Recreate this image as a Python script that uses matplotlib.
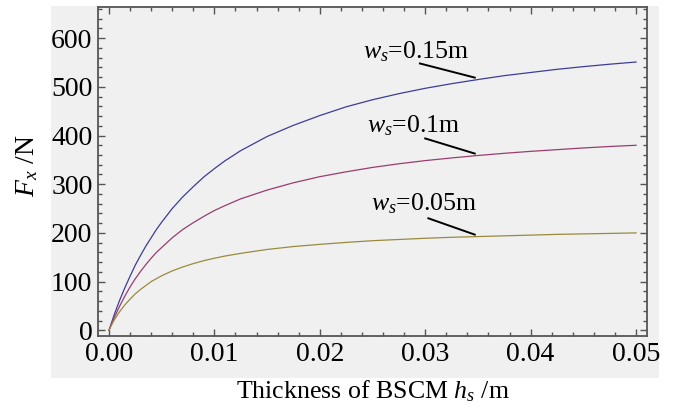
import numpy as np
import matplotlib
matplotlib.use("Agg")
import matplotlib.pyplot as plt
from matplotlib.patches import Rectangle
from matplotlib.ticker import MultipleLocator, FormatStrFormatter

plt.rcParams['font.family'] = ['Liberation Serif', 'DejaVu Serif']
plt.rcParams['mathtext.fontset'] = 'custom'
plt.rcParams['mathtext.rm'] = 'Liberation Serif'
plt.rcParams['mathtext.it'] = 'Liberation Serif:italic'

# --- data ---
h_s = [0.0, 0.00025, 0.0005, 0.001, 0.0015, 0.002, 0.0025, 0.003, 0.0035, 0.004,
       0.0045, 0.005, 0.006, 0.007, 0.008, 0.009, 0.010, 0.011, 0.0125, 0.015,
       0.0175, 0.020, 0.0225, 0.025, 0.0275, 0.030, 0.0325, 0.035, 0.0375, 0.040,
       0.0425, 0.045, 0.0475, 0.050]
fx_w015 = [0, 16, 32, 61, 87, 111, 134, 154, 173, 190,
           207, 222, 250, 274, 295, 315, 332, 348, 369, 398,
           421, 441, 459, 473.5, 486, 497, 506.5, 515, 523, 529.5,
           536, 541.5, 546.5, 551]
fx_w010 = [0, 13.5, 26, 49, 70, 89, 106, 121, 135, 148,
           160, 170, 190, 207, 221, 234, 246, 256, 270, 288,
           303, 315.5, 325.5, 334.5, 342, 348.5, 354, 359, 363.5, 367.5,
           371, 374.5, 377.5, 380]
fx_w005 = [0, 11, 21, 38, 52, 64, 75, 84, 92, 100,
           106, 112, 122, 130, 137, 143, 148, 152.5, 158, 166,
           172, 176.5, 180.5, 184, 186.5, 189, 191, 192.5, 194, 195.5,
           197, 198, 199, 200]
labels = [r'$w_s$=0.15m', r'$w_s$=0.1m', r'$w_s$=0.05m']
colors = ['#3d3d99', '#993d71', '#998b3d']

GRAY = '#f0f0f0'
EDGE = '#555555'

fig = plt.figure(figsize=(6.82, 4.12), dpi=100)
fig.patch.set_facecolor('white')
# grey plot background panel (Mathematica style)
bg = Rectangle((51 / 682, 1 - 378 / 412), (659 - 51) / 682, (378 - 6) / 412,
               transform=fig.transFigure, facecolor=GRAY, edgecolor='none')
bg.set_zorder(-10)
fig.add_artist(bg)

ax = fig.add_axes([98 / 682, 1 - 335.5 / 412, (647 - 98) / 682, (335.5 - 7) / 412])
ax.set_zorder(1)
ax.set_facecolor(GRAY)

series = [fx_w015, fx_w010, fx_w005]
for fx, c in zip(series, colors):
    ax.plot(h_s, fx, color=c, lw=0.9)

# leader lines + labels
h = np.array(h_s)
idx = list(h_s).index(0.035)
leaders = [(0.0295, 548, 0.0241, 559),
           (0.0300, 394, 0.0245, 406),
           (0.0303, 230, 0.0249, 246)]
for fx, lab, (lx, ly, tx, ty) in zip(series, labels, leaders):
    ax.plot([lx, h[idx] - 0.0003], [ly, fx[idx] + 4], color='black', lw=1.4)
    ax.text(tx, ty, lab, fontsize=18.6, va='baseline', ha='left')

ax.set_xlim(-0.00104, 0.05104)
ax.set_ylim(-10.7, 664)

ax.xaxis.set_major_locator(MultipleLocator(0.01))
ax.xaxis.set_minor_locator(MultipleLocator(0.002))
ax.xaxis.set_major_formatter(FormatStrFormatter('%.2f'))
ax.yaxis.set_major_locator(MultipleLocator(100))
ax.yaxis.set_minor_locator(MultipleLocator(20))

ax.tick_params(which='both', direction='in', top=True, right=True, color=EDGE,
               labelsize=20, width=1.0)
ax.tick_params(which='major', length=5)
ax.tick_params(which='minor', length=3)
ax.tick_params(axis='y', pad=4)
ax.tick_params(axis='x', pad=5)
for sp in ax.spines.values():
    sp.set_color(EDGE)
    sp.set_linewidth(1.3)

ax.set_xlabel(r'Thickness of BSCM $h_s$ /m', fontsize=18.6)
ax.set_ylabel(r'$F_x$ /N', fontsize=20)
ax.xaxis.set_label_coords(0.5, -0.13)
ax.yaxis.set_label_coords(-0.106, 0.516)

fig.savefig('out.png', dpi=100)
